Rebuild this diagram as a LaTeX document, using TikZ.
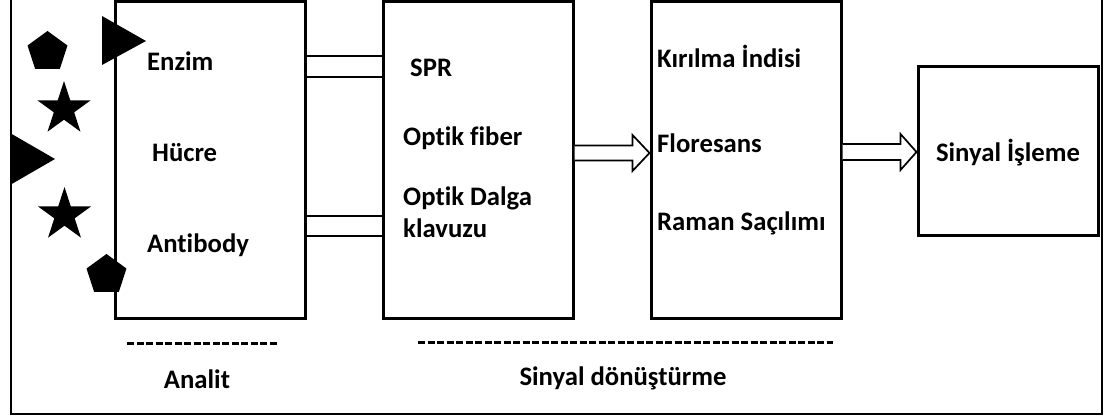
\documentclass[tikz,border=0pt]{standalone}
\usepackage{fontspec}
\setmainfont{Carlito}[Ligatures=NoCommon]
\usetikzlibrary{calc}
\begin{document}
\begin{tikzpicture}[x=1pt,y=-1pt,
  box/.style={draw, line width=3pt, inner sep=0pt, fill=white},
  lbl/.style={font=\fontsize{26.7}{32}\selectfont\bfseries, anchor=base west, inner sep=0pt},
  clbl/.style={font=\fontsize{26.7}{32}\selectfont\bfseries, anchor=base, inner sep=0pt},
  conn/.style={line width=2.7pt},
  harrow/.style={draw, fill=white, line width=1.7pt, line join=miter},
  dashline/.style={line width=3pt, dash pattern=on 7pt off 2.5pt},
  frame/.style={line width=2.6pt},
  blob/.style={fill=black, draw=none}]
\useasboundingbox (0,0) rectangle (1105,417);
\clip (0,0) rectangle (1105,417);
% outer frame
\draw[frame] (11,-10) -- (11,414) -- (1102,414) -- (1102,-10);
% boxes
\node[box, minimum width=190pt, minimum height=316.5pt] (b1) at (210,159.75) {};
\node[box, minimum width=190pt, minimum height=316.5pt] (b2) at (478,159.75) {};
\node[box, minimum width=190pt, minimum height=316.5pt] (b3) at (746,159.75) {};
\node[box, minimum width=180pt, minimum height=168pt] (b4) at (1008,151) {};
% double connectors between b1 and b2
\coordinate (c1) at (0,56);
\coordinate (c2) at (0,77);
\coordinate (c3) at (0,216);
\coordinate (c4) at (0,236);
\draw[conn] (b1.east|-c1) -- (b2.west|-c1);
\draw[conn] (b1.east|-c2) -- (b2.west|-c2);
\draw[conn] (b1.east|-c3) -- (b2.west|-c3);
\draw[conn] (b1.east|-c4) -- (b2.west|-c4);
% hollow arrows
\coordinate (a1) at (0,153);
\draw[harrow] ($(b2.east|-a1)+(0,-7.5)$) -- ($(b3.west|-a1)+(-17,-7.5)$) -- ($(b3.west|-a1)+(-17,-18)$)
  -- (b3.west|-a1) -- ($(b3.west|-a1)+(-17,18)$) -- ($(b3.west|-a1)+(-17,7.5)$) -- ($(b2.east|-a1)+(0,7.5)$);
\coordinate (a2) at (0,152);
\draw[harrow] ($(b3.east|-a2)+(0,-8)$) -- ($(b4.west|-a2)+(-16,-8)$) -- ($(b4.west|-a2)+(-16,-18)$)
  -- (b4.west|-a2) -- ($(b4.west|-a2)+(-16,18)$) -- ($(b4.west|-a2)+(-16,8)$) -- ($(b3.east|-a2)+(0,8)$);
% analyte shapes
\path[blob, shift={(47.5,52)}] (-90:21) -- (-18:21) -- (54:21) -- (126:21) -- (198:21) -- cycle;
\path[blob] (102,16) -- (146,41) -- (102,65) -- cycle;
\path[blob, shift={(64,109)}] (-90:28) -- (-54:10.7) -- (-18:28) -- (18:10.7) -- (54:28) -- (90:10.7)
  -- (126:28) -- (162:10.7) -- (198:28) -- (234:10.7) -- cycle;
\path[blob] (10,133) -- (55,159) -- (10,185) -- cycle;
\path[blob, shift={(64.5,215)}] (-90:28) -- (-54:10.7) -- (-18:28) -- (18:10.7) -- (54:28) -- (90:10.7)
  -- (126:28) -- (162:10.7) -- (198:28) -- (234:10.7) -- cycle;
\path[blob, shift={(106.5,275)}] (-90:21) -- (-18:21) -- (54:21) -- (126:21) -- (198:21) -- cycle;
% labels
\node[lbl] (enz) at (147,71) {Enzim};
\node[lbl] (huc) at (152,161) {Hücre};
\node[lbl] (ab) at (147,252) {Antibody};
\node[lbl] (spr) at (410,77) {SPR};
\node[lbl] (of) at (403,146) {Optik fiber};
\node[lbl] (od) at (403,205) {Optik Dalga};
\node[lbl] (kl) at (403,237) {klavuzu};
\node[lbl] (ki) at (657,68) {Kırılma İndisi};
\node[lbl] (fl) at (657,152) {Floresans};
\node[lbl] (rs) at (657,230) {Raman Saçılımı};
\node[clbl] (si) at (1008,161) {Sinyal İşleme};
\node[clbl] (an) at (197,388) {Analit};
\node[clbl] (sd) at (623,385) {Sinyal dönüştürme};
% dashed rules
\draw[dashline] (127,343) -- (279,343);
\draw[dashline] (418,342) -- (833,342);
\end{tikzpicture}
\end{document}
